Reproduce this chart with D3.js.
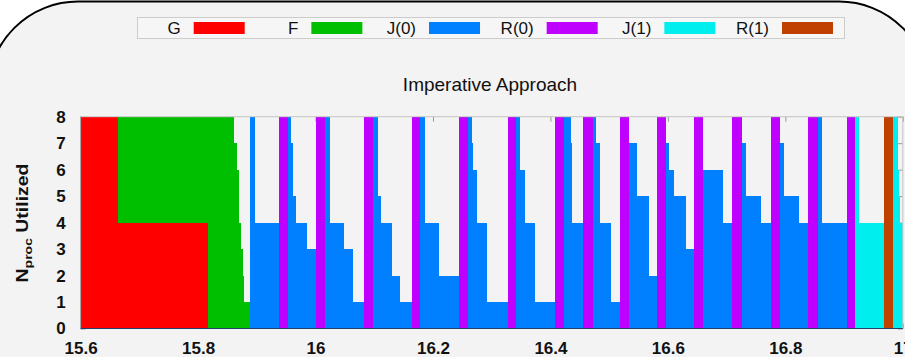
<!DOCTYPE html>
<html><head><meta charset="utf-8">
<script src="https://cdn.jsdelivr.net/npm/d3@7"></script>
<style>
html,body{margin:0;padding:0;background:#ffffff;overflow:hidden;}
svg{display:block;}
</style></head><body>
<svg id="chart" width="905" height="357"></svg>
<script>
// ---------------- data ----------------
const phases = ["G", "F", "J(0)", "R(0)", "J(1)", "R(1)"];
const phaseColors = ["#ff0000", "#00bf00", "#0080ff", "#c000ff", "#00eeee", "#c04000"];
const titleText = "Imperative Approach";
const xTickValues = [15.6, 15.8, 16, 16.2, 16.4, 16.6, 16.8, 17];
const xTickLabels = ["15.6", "15.8", "16", "16.2", "16.4", "16.6", "16.8", "17"];
const yTickValues = [0, 1, 2, 3, 4, 5, 6, 7, 8];

// each step: [start time, end time, processors utilized]
const stepsG = [[15.600, 15.664, 8], [15.664, 15.817, 4]];
const stepsF = [[15.664, 15.817, 4], [15.817, 15.862, 8], [15.862, 15.866, 7], [15.866, 15.870, 6],
  [15.870, 15.873, 4], [15.873, 15.876, 3], [15.876, 15.879, 2], [15.879, 15.889, 1]];
const stepsJ0 = [
  [15.889, 15.897, 8], [15.897, 15.937, 4],
  [15.953, 15.959, 8], [15.959, 15.961, 7], [15.961, 15.966, 5], [15.966, 15.985, 4], [15.985, 16.000, 3],
  [16.016, 16.025, 8], [16.025, 16.049, 4], [16.049, 16.064, 3], [16.064, 16.082, 1],
  [16.098, 16.106, 8], [16.106, 16.112, 5], [16.112, 16.130, 4], [16.130, 16.144, 2], [16.144, 16.164, 1],
  [16.178, 16.186, 8], [16.186, 16.211, 4], [16.211, 16.244, 2],
  [16.260, 16.267, 8], [16.267, 16.269, 7], [16.269, 16.275, 6], [16.275, 16.292, 4], [16.292, 16.327, 1],
  [16.341, 16.348, 8], [16.348, 16.356, 6], [16.356, 16.374, 4], [16.374, 16.408, 1],
  [16.423, 16.435, 8], [16.435, 16.436, 7], [16.436, 16.456, 4],
  [16.472, 16.478, 8], [16.478, 16.484, 7], [16.484, 16.503, 4], [16.503, 16.519, 1],
  [16.534, 16.547, 7], [16.547, 16.567, 5], [16.567, 16.582, 2],
  [16.597, 16.602, 7], [16.602, 16.611, 6], [16.611, 16.631, 5], [16.631, 16.645, 3],
  [16.660, 16.693, 6], [16.693, 16.694, 5], [16.694, 16.710, 4],
  [16.727, 16.733, 7], [16.733, 16.759, 5], [16.759, 16.775, 4],
  [16.791, 16.798, 7], [16.798, 16.823, 5], [16.823, 16.839, 4],
  [16.856, 16.863, 8], [16.863, 16.905, 4]
];
const stepsR0 = [
  [15.937, 15.953, 8], [16.000, 16.016, 8], [16.082, 16.098, 8], [16.164, 16.178, 8],
  [16.244, 16.260, 8], [16.327, 16.341, 8], [16.408, 16.423, 8], [16.456, 16.472, 8],
  [16.519, 16.534, 8], [16.582, 16.597, 8], [16.645, 16.660, 8], [16.710, 16.727, 8],
  [16.775, 16.791, 8], [16.839, 16.856, 8], [16.905, 16.919, 8]
];
const stepsJ1 = [[16.919, 16.926, 8], [16.926, 16.968, 4], [16.984, 16.992, 8],
  [16.992, 16.994, 6], [16.994, 16.996, 5], [16.996, 17.000, 4]];
const stepsR1 = [[16.968, 16.984, 8]];

const phaseSteps = [stepsG, stepsF, stepsJ0, stepsR0, stepsJ1, stepsR1];

// ---------------- drawing ----------------
const W = 905, H = 357;
const svg = d3.select("#chart");
const font = "'Liberation Sans', Arial, Helvetica, sans-serif";

svg.append("rect").attr("width", W).attr("height", H).attr("fill", "#ffffff");
// slide frame
svg.append("rect").attr("x", -12).attr("y", 1.5).attr("width", 941).attr("height", 420)
  .attr("rx", 90).attr("ry", 90).attr("fill", "#f3f3f3").attr("stroke", "#000").attr("stroke-width", 2);

const x = d3.scaleLinear().domain([15.6, 17]).range([80.6, 902.8]);
const y = d3.scaleLinear().domain([0, 8]).range([328.5, 116.7]);

// ticks under the data (gnuplot-like inward ticks, mirrored)
const tickCol = "#9a9a9a";
function styleAxis(g) {
  g.select(".domain").remove();
  g.selectAll(".tick line").attr("stroke", tickCol);
}
svg.append("g").attr("transform", `translate(0,${y(8)})`)
  .call(d3.axisTop(x).tickValues(xTickValues).tickSize(-5).tickFormat(""))
  .call(styleAxis);
svg.append("g").attr("transform", `translate(${x(17)},0)`)
  .call(d3.axisRight(y).tickValues(yTickValues).tickSize(-5).tickFormat(""))
  .call(styleAxis);
svg.append("g").attr("transform", `translate(0,${y(0)})`)
  .call(d3.axisBottom(x).tickValues(xTickValues).tickSize(-5).tickFormat(""))
  .call(styleAxis);
svg.append("g").attr("transform", `translate(${x(15.6)},0)`)
  .call(d3.axisLeft(y).tickValues(yTickValues).tickSize(-5).tickFormat(""))
  .call(styleAxis);

// data: stacked step blocks
const drawn = [];
const rects = [];
phaseSteps.forEach((steps, pi) => {
  steps.forEach(([t0, t1, n]) => {
    const mid = (t0 + t1) / 2;
    let base = 0;
    drawn.forEach(([a, b, m]) => { if (mid > a && mid < b) base += m; });
    rects.push({ t0, t1, lo: base, hi: base + n, phase: pi });
  });
  steps.forEach(s => drawn.push(s));
});

svg.append("g").selectAll("rect").data(rects).join("rect")
  .attr("x", d => x(d.t0))
  .attr("width", d => Math.max(0.5, x(d.t1) - x(d.t0)))
  .attr("y", d => y(d.hi))
  .attr("height", d => y(d.lo) - y(d.hi))
  .attr("fill", d => phaseColors[d.phase])
  .attr("shape-rendering", "crispEdges");

// border
const bx0 = x(15.6), bx1 = x(17), by0 = y(8), by1 = y(0);
svg.append("line").attr("x1", bx0).attr("x2", bx1).attr("y1", by0).attr("y2", by0).attr("stroke", "#c4c4c4");
svg.append("line").attr("x1", bx0).attr("x2", bx0).attr("y1", by0).attr("y2", by1).attr("stroke", "#a0a0a0");
svg.append("line").attr("x1", bx1).attr("x2", bx1).attr("y1", by0).attr("y2", by1).attr("stroke", "#c4c4c4");
svg.append("line").attr("x1", bx0).attr("x2", bx1).attr("y1", by1).attr("y2", by1).attr("stroke", "#24406a").attr("stroke-width", 1.2);

// tick labels
const xAx = svg.append("g").attr("transform", `translate(0,${y(0)})`)
  .call(d3.axisBottom(x).tickValues(xTickValues).tickSize(0).tickPadding(13)
    .tickFormat((d, i) => xTickLabels[i]));
xAx.select(".domain").remove();
xAx.selectAll("text").attr("font-family", font).attr("font-size", 17).attr("font-weight", "bold").attr("fill", "#111");

const yAx = svg.append("g").attr("transform", `translate(${x(15.6)},0)`)
  .call(d3.axisLeft(y).tickValues(yTickValues).tickSize(0).tickPadding(15).tickFormat(d3.format("d")));
yAx.select(".domain").remove();
yAx.selectAll("text").attr("font-family", font).attr("font-size", 17).attr("font-weight", "bold").attr("fill", "#111");

// y label (elongated along its length like the reference)
const ylG = svg.append("g");
const yl = ylG.append("text")
  .attr("text-anchor", "middle").attr("font-family", font).attr("font-size", 16)
  .attr("font-weight", "bold").attr("fill", "#111");
yl.append("tspan").text("N");
yl.append("tspan").attr("font-size", 11.5).attr("dy", 4).text("proc");
yl.append("tspan").attr("dy", -4).text(" Utilized");
const ylLen = yl.node().getComputedTextLength() || 96;
ylG.attr("transform", `translate(28,223) rotate(-90) scale(${119 / ylLen},1)`);

// title
svg.append("text").attr("x", 490).attr("y", 91).attr("text-anchor", "middle")
  .attr("font-family", font).attr("font-size", 19).attr("fill", "#111").text(titleText);

// legend
const lg = svg.append("g");
lg.append("rect").attr("x", 137.5).attr("y", 17.5).attr("width", 707).attr("height", 21)
  .attr("fill", "#f6f6f6").attr("stroke", "#cccccc");
const legendX = d3.scalePoint().domain(phases).range([193.7, 782]);
phases.forEach((p, i) => {
  const sx = legendX(p);
  lg.append("rect").attr("x", sx).attr("y", 22).attr("width", 51).attr("height", 12)
    .attr("fill", phaseColors[i]);
  lg.append("text").attr("x", sx - 13).attr("y", 34).attr("text-anchor", "end")
    .attr("font-family", font).attr("font-size", 17).attr("fill", "#111").text(p);
});
</script>
</body></html>
